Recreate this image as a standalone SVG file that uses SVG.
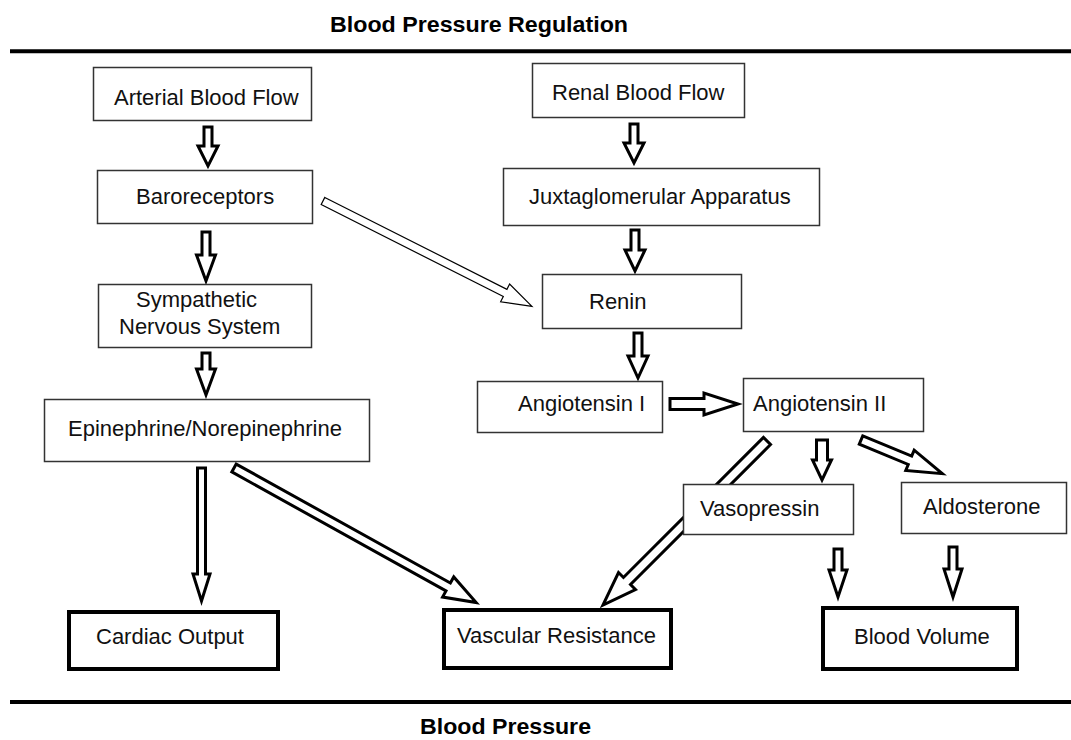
<svg xmlns="http://www.w3.org/2000/svg" width="1071" height="740" viewBox="0 0 1071 740">
<style>
.bg{fill:#fff}
.box{fill:#fff;stroke:#333;stroke-width:1.5}
.tbox{fill:#fff;stroke:#000;stroke-width:4}
.lbl{font-family:"Liberation Sans",Arial,sans-serif;font-size:22px;fill:#111}
.ttl{font-family:"Liberation Sans",Arial,sans-serif;font-size:22px;font-weight:bold;fill:#000}
.arr{fill:#fff;stroke:#000;stroke-width:3;stroke-linejoin:miter}
.arrt{fill:#fff;stroke:#000;stroke-width:1.2;stroke-linejoin:miter}
.rule{stroke:#000;stroke-width:4}
</style>
<rect class="bg" x="0" y="0" width="1071" height="740"/>
<g id="header">
<text class="ttl" x="330" y="32" textLength="298" lengthAdjust="spacingAndGlyphs">Blood Pressure Regulation</text>
<line class="rule" x1="10" y1="51.3" x2="1071" y2="51.3"/>
</g>
<g id="footer">
<line class="rule" x1="10" y1="702" x2="1071" y2="702"/>
<text class="ttl" x="420" y="734" textLength="171" lengthAdjust="spacingAndGlyphs">Blood Pressure</text>
</g>
<g id="connectors">
<polygon class="arr" transform="translate(208,127) rotate(90)" points="0,-4 19,-4 19,-10 39,0 19,10 19,4 0,4"/>
<polygon class="arr" transform="translate(206,232) rotate(90)" points="0,-4 23,-4 23,-9.5 49,0 23,9.5 23,4 0,4"/>
<polygon class="arr" transform="translate(206,353) rotate(90)" points="0,-4 16,-4 16,-9.5 42,0 16,9.5 16,4 0,4"/>
<polygon class="arr" transform="translate(201.5,468) rotate(90)" points="0,-4 106,-4 106,-8.5 133,0 106,8.5 106,4 0,4"/>
<polygon class="arr" transform="translate(234,468) rotate(29.05)" points="0,-4.5 245,-4.5 245,-11.5 277,0 245,11.5 245,4.5 0,4.5"/>
<polygon class="arrt" transform="translate(323,201) rotate(26.78)" points="0,-4 204,-4 204,-10 234,0 204,10 204,4 0,4"/>
<polygon class="arr" transform="translate(634,124) rotate(90)" points="0,-4 19,-4 19,-10 39,0 19,10 19,4 0,4"/>
<polygon class="arr" transform="translate(635,230) rotate(90)" points="0,-4 20,-4 20,-10 41,0 20,10 20,4 0,4"/>
<polygon class="arr" transform="translate(638,333) rotate(90)" points="0,-4 23,-4 23,-10 45,0 23,10 23,4 0,4"/>
<polygon class="arr" transform="translate(670,404) rotate(0)" points="0,-5.5 34,-5.5 34,-11 68,0 34,11 34,5.5 0,5.5"/>
<polygon class="arr" transform="translate(822,440) rotate(90)" points="0,-5.5 20,-5.5 20,-9.5 40,0 20,9.5 20,5.5 0,5.5"/>
<polygon class="arr" transform="translate(861,440) rotate(22.52)" points="0,-4.5 53,-4.5 53,-11 88,0 53,11 53,4.5 0,4.5"/>
<polygon class="arr" transform="translate(767,441) rotate(135)" points="0,-5 198,-5 198,-12 232,0 198,12 198,5 0,5"/>
<polygon class="arr" transform="translate(838,549) rotate(90)" points="0,-4 21,-4 21,-9 48,0 21,9 21,4 0,4"/>
<polygon class="arr" transform="translate(953,547) rotate(90)" points="0,-4 22,-4 22,-9 50,0 22,9 22,4 0,4"/>
</g>
<g id="arterial-blood-flow"><rect class="box" x="93.5" y="67.5" width="218" height="53"/><text class="lbl" x="114" y="105">Arterial Blood Flow</text></g>
<g id="baroreceptors"><rect class="box" x="97.5" y="170.5" width="215" height="53"/><text class="lbl" x="136" y="204">Baroreceptors</text></g>
<g id="sympathetic"><rect class="box" x="98.5" y="284.5" width="213" height="63"/><text class="lbl" x="136" y="307">Sympathetic</text><text class="lbl" x="119" y="334">Nervous System</text></g>
<g id="epinephrine"><rect class="box" x="44.5" y="399.5" width="325" height="62"/><text class="lbl" x="68" y="436">Epinephrine/Norepinephrine</text></g>
<g id="cardiac-output"><rect class="tbox" x="69" y="612" width="209" height="57"/><text class="lbl" x="96" y="644">Cardiac Output</text></g>
<g id="vascular-resistance"><rect class="tbox" x="444" y="610" width="227" height="58"/><text class="lbl" x="457" y="643">Vascular Resistance</text></g>
<g id="blood-volume"><rect class="tbox" x="823" y="608" width="194" height="61"/><text class="lbl" x="854" y="644">Blood Volume</text></g>
<g id="renal-blood-flow"><rect class="box" x="532.5" y="63.5" width="212" height="54"/><text class="lbl" x="552" y="100">Renal Blood Flow</text></g>
<g id="juxtaglomerular"><rect class="box" x="503.5" y="168.5" width="316" height="57"/><text class="lbl" x="529" y="204">Juxtaglomerular Apparatus</text></g>
<g id="renin"><rect class="box" x="542.5" y="274.5" width="199" height="54"/><text class="lbl" x="589" y="309">Renin</text></g>
<g id="angiotensin-1"><rect class="box" x="477.5" y="381.5" width="185" height="51"/><text class="lbl" x="518" y="411">Angiotensin I</text></g>
<g id="angiotensin-2"><rect class="box" x="743.5" y="378.5" width="180" height="53"/><text class="lbl" x="753" y="411">Angiotensin II</text></g>
<g id="vasopressin"><rect class="box" x="683.5" y="484.5" width="170" height="50"/><text class="lbl" x="700" y="516">Vasopressin</text></g>
<g id="aldosterone"><rect class="box" x="901.5" y="482.5" width="165" height="51"/><text class="lbl" x="923" y="514">Aldosterone</text></g>
</svg>
